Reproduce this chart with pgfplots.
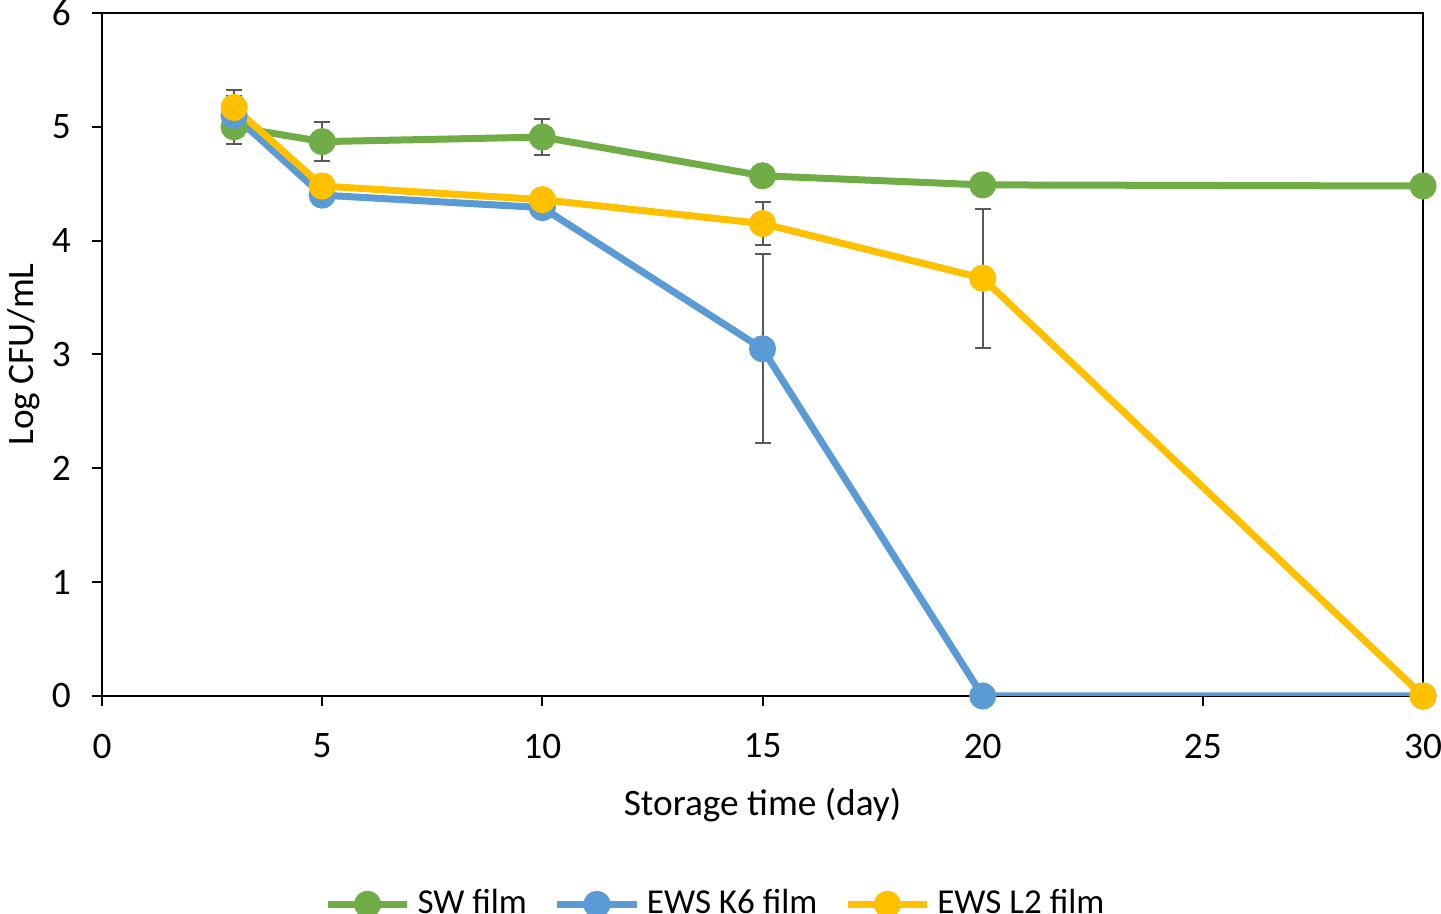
\documentclass[border=0pt]{standalone}
\usepackage{pgfplots}
\pgfplotsset{compat=1.18}
\usepackage{fontspec}
\setmainfont{Carlito}
\definecolor{cgreen}{HTML}{70AD47}
\definecolor{cblue}{HTML}{5B9BD5}
\definecolor{cyellow}{HTML}{FFC000}
\definecolor{cerr}{HTML}{595959}
\begin{document}
\fontsize{11}{13}\selectfont
\begin{tikzpicture}
\begin{axis}[
  scale only axis,
  width=396.3pt, height=204.9pt,
  xmin=0, xmax=30, ymin=0, ymax=6,
  xtick={0,5,10,15,20,25,30},
  ytick={0,1,2,3,4,5,6},
  tick align=outside,
  tick pos=left,
  major tick length=3pt,
  axis line style={line width=0.6pt, black},
  every tick/.style={line width=0.6pt, black},
  /pgf/number format/assume math mode=true,
  ticklabel style={font=\fontsize{11.2}{13}\selectfont},
  xticklabel style={yshift=-4.5pt},
  yticklabel style={xshift=-2.5pt},
  xlabel={Storage time (day)},
  ylabel={Log CFU/mL},
  xlabel style={font=\fontsize{11.2}{13}\selectfont, yshift=-1.5pt},
  ylabel style={font=\fontsize{11.2}{13}\selectfont, yshift=-4pt},
  legend style={draw=none, at={(0.466,-0.305)}, anchor=center, font=\fontsize{10.5}{13}\selectfont,
     /tikz/every even column/.append style={column sep=6pt},
     /tikz/every odd column/.append style={inner xsep=1pt}},
  legend columns=3,
  legend image code/.code={\draw[mark repeat=2,mark phase=2,#1] plot coordinates {(0cm,0cm) (0.42cm,0cm) (0.84cm,0cm)};},
  every axis plot/.append style={line width=2.1pt, mark=*, mark size=3pt},
  error bars/error bar style={color=cerr, line width=0.6pt},
  error bars/error mark options={rotate=90, mark size=2.4pt, line width=0.6pt, color=cerr},
]
\addplot[cgreen, mark options={fill=cgreen, draw=cgreen}, error bars/.cd, y dir=both, y explicit]
  table[x=x, y=y, y error=e] {
x y e
3 5.00 0.15
5 4.87 0.17
10 4.91 0.155
15 4.57 0.03
20 4.49 0.02
30 4.48 0.02
};
\addlegendentry{SW film}
\addplot[cblue, mark options={fill=cblue, draw=cblue}, error bars/.cd, y dir=both, y explicit]
  table[x=x, y=y, y error=e] {
x y e
3 5.10 0.17
5 4.40 0.07
10 4.29 0.05
15 3.05 0.83
20 0 0
30 0 0
};
\addlegendentry{EWS K6 film}
\addplot[cyellow, mark options={fill=cyellow, draw=cyellow}, error bars/.cd, y dir=both, y explicit]
  table[x=x, y=y, y error=e] {
x y e
3 5.17 0.15
5 4.48 0.05
10 4.36 0.05
15 4.15 0.19
20 3.67 0.61
30 0 0
};
\addlegendentry{EWS L2 film}
\end{axis}
\pgfresetboundingbox
\path[use as bounding box] ([xshift=-30.6pt,yshift=-65.4pt]current axis.south west) rectangle ([xshift=5.4pt,yshift=3.9pt]current axis.north east);
\end{tikzpicture}
\end{document}
